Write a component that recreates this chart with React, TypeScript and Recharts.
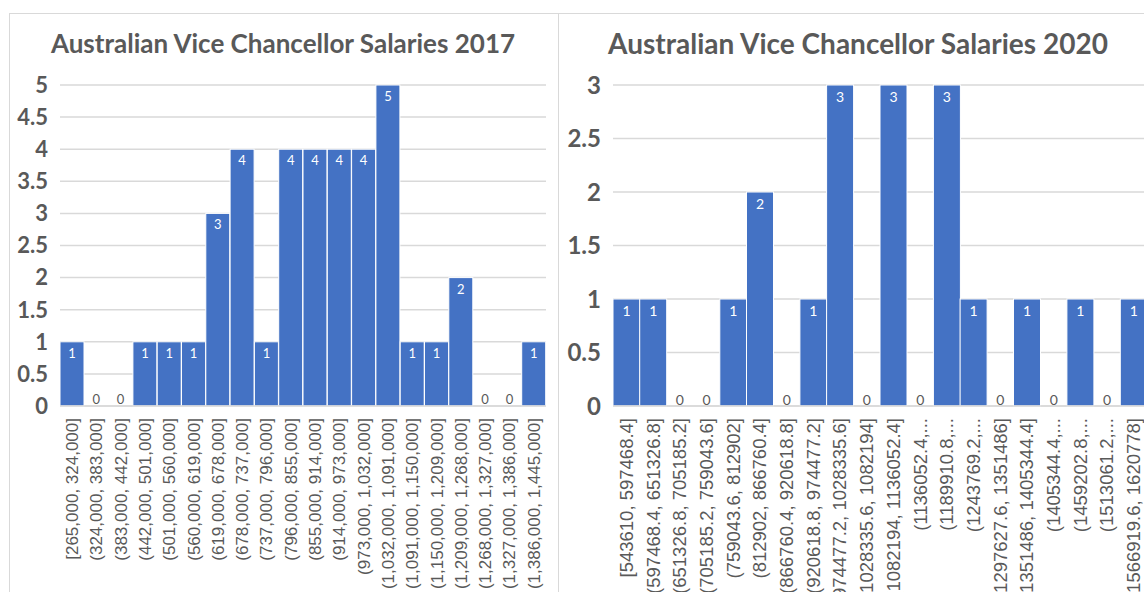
import React from 'react';
import { BarChart, Bar, XAxis, YAxis, CartesianGrid } from 'recharts';

// 2017 salary bins
const bins2017 = [
  '[265,000, 324,000]', '(324,000, 383,000]', '(383,000, 442,000]', '(442,000, 501,000]',
  '(501,000, 560,000]', '(560,000, 619,000]', '(619,000, 678,000]', '(678,000, 737,000]',
  '(737,000, 796,000]', '(796,000, 855,000]', '(855,000, 914,000]', '(914,000, 973,000]',
  '(973,000, 1,032,000]', '(1,032,000, 1,091,000]', '(1,091,000, 1,150,000]', '(1,150,000, 1,209,000]',
  '(1,209,000, 1,268,000]', '(1,268,000, 1,327,000]', '(1,327,000, 1,386,000]', '(1,386,000, 1,445,000]',
];
const counts2017 = [1, 0, 0, 1, 1, 1, 3, 4, 1, 4, 4, 4, 4, 5, 1, 1, 2, 0, 0, 1];
const ticks2017 = [0, 0.5, 1, 1.5, 2, 2.5, 3, 3.5, 4, 4.5, 5];

// 2020 salary bins
const bins2020 = [
  '[543610, 597468.4]', '(597468.4, 651326.8]', '(651326.8, 705185.2]', '(705185.2, 759043.6]',
  '(759043.6, 812902]', '(812902, 866760.4]', '(866760.4, 920618.8]', '(920618.8, 974477.2]',
  '(974477.2, 1028335.6]', '(1028335.6, 1082194]', '(1082194, 1136052.4]', '(1136052.4,...',
  '(1189910.8,...', '(1243769.2,...', '(1297627.6, 1351486]', '(1351486, 1405344.4]',
  '(1405344.4,...', '(1459202.8,...', '(1513061.2,...', '(1566919.6, 1620778]',
];
const counts2020 = [1, 1, 0, 0, 1, 2, 0, 1, 3, 0, 3, 0, 3, 1, 0, 1, 0, 1, 0, 1];
const ticks2020 = [0, 0.5, 1, 1.5, 2, 2.5, 3];

const GREY = '#595959';
const BLUE = '#4472C4';

const makeXTick = (fontSize: number) => ({ x, y, payload }: any) => (
  <text
    x={x}
    y={y + 12}
    transform={`rotate(-90, ${x}, ${y + 12})`}
    textAnchor="end"
    dy="0.35em"
    fontFamily="Liberation Sans, Arial, sans-serif"
    fontSize={fontSize}
    fill={GREY}
  >
    {payload.value}
  </text>
);

// bar rect + its value label (zero bins still get a grey "0")
const makeBarShape = (fontSize: number) => (props: any) => {
  const { x, y, width, height, value } = props;
  const v = Array.isArray(value) ? value[1] - value[0] : value;
  const cx = x + width / 2;
  return (
    <g>
      {height > 0 && (
        <rect x={x} y={y} width={width} height={height} fill={BLUE} stroke="#ffffff" strokeWidth={1} />
      )}
      {v === 0 ? (
        <text x={cx} y={y - 7} textAnchor="middle" dominantBaseline="central"
          fontFamily="Lato, sans-serif" fontSize={fontSize} fill={GREY}>
          0
        </text>
      ) : (
        <text x={cx} y={y + 11} textAnchor="middle" dominantBaseline="central"
          fontFamily="Lato, sans-serif" fontSize={fontSize} fill="#ffffff">
          {v}
        </text>
      )}
    </g>
  );
};

interface HistProps {
  bins: string[];
  counts: number[];
  ticks: number[];
  width: number;
  yAxisWidth: number;
  rightMargin: number;
  xFont: number;
  yFont: number;
  labelFont: number;
}

const Histogram: React.FC<HistProps> = ({ bins, counts, ticks, width, yAxisWidth, rightMargin, xFont, yFont, labelFont }) => {
  const data = bins.map((bin, i) => ({ bin, count: counts[i] }));
  const XTick = makeXTick(xFont);
  return (
    <BarChart
      width={width}
      height={578}
      data={data}
      margin={{ top: 71, right: rightMargin, left: 0, bottom: 0 }}
      barCategoryGap={0}
    >
      <CartesianGrid vertical={false} stroke="#d9d9d9" strokeWidth={1.5} />
      <XAxis
        dataKey="bin"
        interval={0}
        height={186}
        tick={<XTick />}
        tickLine={false}
        tickSize={0}
        tickMargin={0}
        axisLine={{ stroke: '#d9d9d9', strokeWidth: 1.5 }}
      />
      <YAxis
        width={yAxisWidth}
        domain={[0, ticks[ticks.length - 1]]}
        ticks={ticks}
        interval={0}
        axisLine={false}
        tickLine={false}
        tickSize={0}
        tickMargin={12}
        tick={{ fill: GREY, fontSize: yFont, fontWeight: 700, fontFamily: 'Lato, sans-serif' }}
      />
      <Bar dataKey="count" fill={BLUE} isAnimationActive={false} shape={makeBarShape(labelFont)} />
    </BarChart>
  );
};

const titleStyle: React.CSSProperties = {
  position: 'absolute',
  width: 600,
  fontFamily: 'Lato, sans-serif',
  fontWeight: 700,
  color: GREY,
  textAlign: 'center',
  whiteSpace: 'nowrap',
};

export default function App() {
  return (
    <div style={{ position: 'absolute', left: 0, top: 0, width: 1144, height: 592, overflow: 'hidden', background: '#fff' }}>
      <div style={{ position: 'absolute', left: 9, top: 13, width: 2000, height: 1000, borderLeft: '1.5px solid #d9d9d9', borderTop: '1.5px solid #d9d9d9' }} />
      <div style={{ position: 'absolute', left: 558, top: 13, width: 0, height: 1000, borderLeft: '1.5px solid #d9d9d9' }} />

      <div style={{ ...titleStyle, left: -17, top: 28, fontSize: 26, lineHeight: '30px' }}>
        Australian Vice Chancellor Salaries 2017
      </div>
      <div style={{ ...titleStyle, left: 558, top: 27, fontSize: 28, lineHeight: '32px' }}>
        Australian Vice Chancellor Salaries 2020
      </div>

      <div style={{ position: 'absolute', left: 10, top: 14 }}>
        <Histogram bins={bins2017} counts={counts2017} ticks={ticks2017} width={548} yAxisWidth={50}
          rightMargin={12} xFont={17} yFont={22} labelFont={13} />
      </div>
      <div style={{ position: 'absolute', left: 559, top: 14 }}>
        <Histogram bins={bins2020} counts={counts2020} ticks={ticks2020} width={600} yAxisWidth={54}
          rightMargin={12} xFont={18.5} yFont={24} labelFont={14} />
      </div>
    </div>
  );
}
